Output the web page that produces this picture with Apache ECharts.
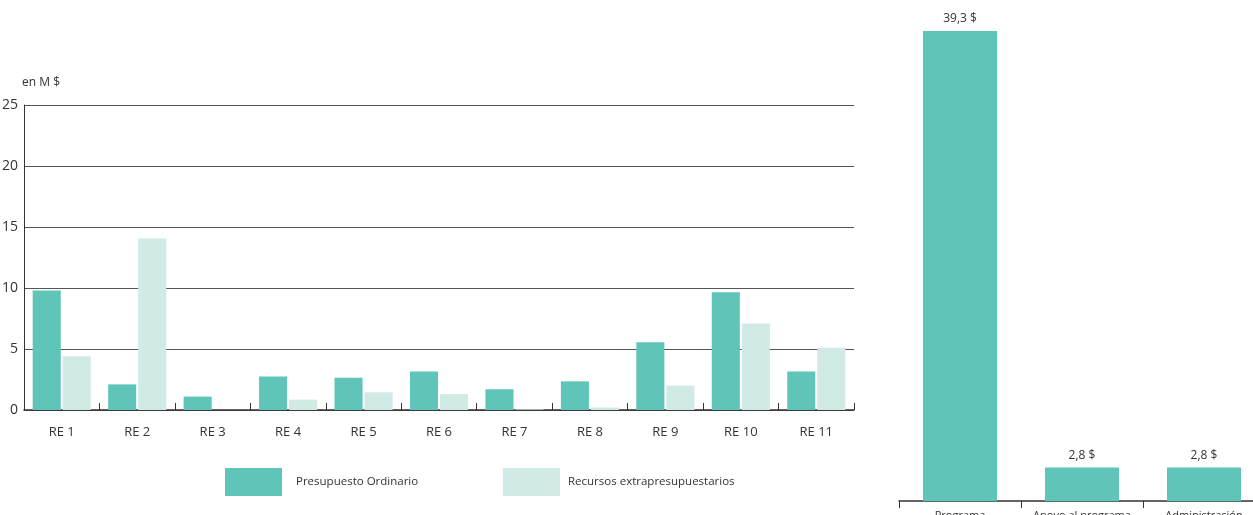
<!DOCTYPE html>
<html>
<head>
<meta charset="utf-8">
<script src="https://cdn.jsdelivr.net/npm/echarts@6/dist/echarts.min.js"></script>
<style>
  html, body { margin: 0; padding: 0; background: #fff; }
  #chart { width: 1253px; height: 515px; }
</style>
</head>
<body>
<div id="chart"></div>
<script>
// left chart: by region (en M $)
const regions = ['RE 1', 'RE 2', 'RE 3', 'RE 4', 'RE 5', 'RE 6', 'RE 7', 'RE 8', 'RE 9', 'RE 10', 'RE 11']
const ordinario = [9.8, 2.1, 1.1, 2.75, 2.65, 3.15, 1.7, 2.35, 5.55, 9.65, 3.15]
const extra = [4.4, 14.05, 0, 0.85, 1.45, 1.3, 0.05, 0.2, 2.0, 7.1, 5.1]
const yTicks = [0, 5, 10, 15, 20, 25]

// right chart: by function
const funciones = ['Programa', 'Apoyo al programa', 'Administración']
const funcValores = [39.3, 2.8, 2.8]

const dark = '#5fc5b9'
const light = '#d0eae6'
const font = 'Open Sans'

const chart = echarts.init(document.getElementById('chart'))

const option = {
    animation: false,
    textStyle: { fontFamily: font },
    grid: [
        { left: 24, top: 105, width: 830, height: 305, containLabel: false, outerBoundsMode: 'none' },
        { left: 899, top: 31, width: 366, height: 470, containLabel: false, outerBoundsMode: 'none' },
    ],
    legend: [
        {
            data: ['Presupuesto Ordinario'],
            left: 225,
            top: 468,
            padding: 0,
            itemWidth: 57,
            itemHeight: 28,
            icon: 'rect',
            textStyle: { color: '#333', fontSize: 11.5, padding: [0, 0, 0, 9], fontFamily: font },
        },
        {
            data: ['Recursos extrapresupuestarios'],
            left: 503,
            top: 468,
            padding: 0,
            itemWidth: 57,
            itemHeight: 28,
            icon: 'rect',
            textStyle: { color: '#333', fontSize: 11.5, padding: [0, 0, 0, 3], fontFamily: font },
        },
    ],
    xAxis: [
        {
            type: 'category',
            gridIndex: 0,
            data: regions,
            axisLine: { show: true, lineStyle: { color: '#333', width: 1.5 } },
            axisTick: { show: true, inside: true, length: 7, alignWithLabel: false, lineStyle: { color: '#333' } },
            axisLabel: { color: '#333', fontSize: 13, margin: 16 },
        },
        {
            type: 'category',
            gridIndex: 1,
            data: funciones,
            axisLine: { show: true, lineStyle: { color: '#333', width: 1.5 } },
            axisTick: { show: true, inside: false, length: 7, lineStyle: { color: '#333' } },
            axisLabel: { color: '#333', fontSize: 11, margin: 9, interval: 0 },
        },
    ],
    yAxis: [
        {
            type: 'value',
            gridIndex: 0,
            min: yTicks[0],
            max: yTicks[yTicks.length - 1],
            interval: 5,
            name: 'en M $',
            nameLocation: 'end',
            nameGap: 16,
            nameTextStyle: { color: '#333', fontSize: 12, align: 'left', padding: [0, 0, 0, -2] },
            axisLine: { show: true, lineStyle: { color: '#333', width: 1 } },
            axisTick: { show: false },
            splitLine: { show: true, lineStyle: { color: '#555', width: 1 } },
            axisLabel: { color: '#333', fontSize: 14, margin: 6, align: 'right' },
        },
        {
            type: 'value',
            gridIndex: 1,
            min: 0,
            max: 39.3,
            show: false,
            splitLine: { show: false },
        },
    ],
    series: [
        {
            name: 'Presupuesto Ordinario',
            type: 'bar',
            xAxisIndex: 0,
            yAxisIndex: 0,
            data: ordinario,
            itemStyle: { color: dark },
            barGap: '7%',
            barCategoryGap: '23%',
        },
        {
            name: 'Recursos extrapresupuestarios',
            type: 'bar',
            xAxisIndex: 0,
            yAxisIndex: 0,
            data: extra,
            itemStyle: { color: light },
            barGap: '7%',
            barCategoryGap: '23%',
        },
        {
            name: 'Funciones',
            type: 'bar',
            xAxisIndex: 1,
            yAxisIndex: 1,
            data: funcValores,
            itemStyle: { color: dark },
            barWidth: 74,
            label: {
                show: true,
                position: 'top',
                distance: 6,
                color: '#333',
                fontSize: 12,
                formatter: (p) => p.value.toFixed(1).replace('.', ',') + ' $',
            },
        },
    ],
}

chart.setOption(option)
</script>
</body>
</html>
